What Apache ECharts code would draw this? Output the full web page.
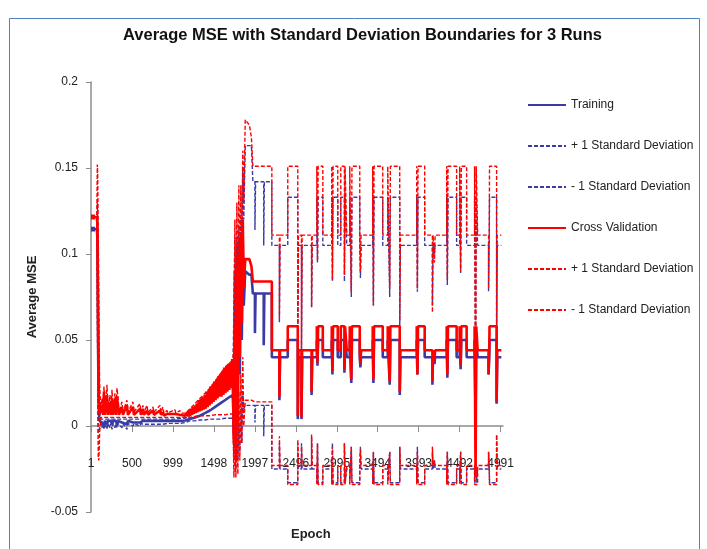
<!DOCTYPE html>
<html>
<head>
<meta charset="utf-8">
<script src="https://cdn.jsdelivr.net/npm/echarts@6/dist/echarts.min.js"></script>
<style>
html,body{margin:0;padding:0;background:#fff;}
#chart{width:707px;height:549px;}
</style>
</head>
<body>
<div id="chart"></div>
<script>
// ---- Data (epoch, value) ----
const epochTicks = [1,500,999,1498,1997,2496,2995,3494,3993,4492,4991];
const lastEpoch = 5000;

// Early (noisy) part: vertices shared by most series
const earlyEpoch = [1,72,78,82,86,90,95,100,106,120,135,147,159,171,196,208,232,244,257,269,293,305,317,330,342,378,390,439,451,512,524,597,609,634,646,683,695,756,768,841,853,877,889,926,938,1023,1035,1084,1096,1150,1206,1267,1328,1389,1449,1510,1571,1632,1693,1730,1742,1754,1766,1778,1790,1802,1814,1826,1838,1850,1862,1880,1930,1955];
const earlyTrainMean = [.1145,.1145,.110,.090,.060,.030,.012,.005,.003,.003,.002,.003,.000,.003,.001,.003,.002,.003,.001,.003,.002,.003,.001,.003,.003,.002,.003,.001,.003,.002,.003,.002,.003,.003,.003,.003,.003,.003,.003,.003,.003,.003,.003,.003,.003,.003,.003,.003,.003,.0032,.004,.005,.006,.0075,.009,.011,.013,.015,.017,.018,-.005,.090,.000,.105,.020,.108,.030,.110,.050,.105,.070,.090,.088,.088];
const earlyTrainUpper = [.1155,.1155,.130,.124,.100,.070,.040,.020,.008,.004,.004,.004,.004,.004,.004,.004,.004,.004,.004,.004,.004,.004,.004,.004,.004,.004,.004,.004,.004,.004,.004,.004,.004,.004,.004,.004,.004,.004,.004,.004,.004,.004,.004,.004,.004,.004,.004,.0045,.0045,.0045,.006,.008,.010,.013,.016,.019,.022,.025,.028,.029,.030,.110,.040,.110,.060,.115,.070,.120,.100,.150,.120,.163,.163,.163];
const earlyTrainLower = [.1135,.1135,.090,.050,.010,-.004,-.004,-.003,-.001,.0015,-.001,.0015,-.002,.0015,-.002,.0015,-.001,.0015,-.002,.0015,-.001,.0015,-.001,.0015,.0015,-.001,.0015,-.002,.0015,.000,.0015,.000,.0015,.001,.0015,.001,.0015,.001,.0015,.001,.0015,.001,.0015,.0015,.0015,.0015,.0015,.0015,.0015,.002,.003,.003,.0035,.0035,.004,.004,.004,.0045,.0045,.0045,-.020,-.005,-.025,.000,-.020,.000,-.015,.010,-.010,.020,.010,.012,.012,.012];
const earlyCvUpper = [.1225,.1225,.152,.148,.130,.110,.080,.050,.025,.008,.016,.008,.023,.008,.024,.008,.018,.008,.021,.008,.019,.008,.022,.017,.008,.014,.008,.015,.008,.014,.008,.013,.008,.012,.008,.012,.008,.011,.008,.012,.008,.011,.0075,.009,.0075,.0095,.0075,.009,.0075,.0075,.010,.013,.016,.019,.022,.026,.030,.034,.037,.038,.050,.120,.030,.130,.050,.140,.080,.140,.100,.160,.130,.178,.175,.168];
const earlyCvLower = [.1205,.1205,.084,.040,.000,-.018,-.020,-.015,-.004,.005,.005,.005,.005,.005,.005,.005,.005,.005,.005,.005,.005,.005,.005,.005,.005,.005,.005,.005,.005,.005,.005,.005,.005,.005,.005,.005,.005,.005,.005,.005,.005,.005,.005,.005,.005,.005,.005,.005,.005,.005,.005,.0055,.006,.006,.006,.0065,.0065,.0065,.007,.007,-.030,-.010,-.030,.010,-.028,.020,-.020,.030,-.010,.040,.000,.015,.015,.015];

// Cross-validation mean has its own (denser, noisy) early vertices
const cvMeanEpoch = [1,72,78,82,86,90,95,100,106,120,135,147,159,171,196,208,232,244,257,269,293,305,317,330,342,378,390,439,451,512,524,597,609,634,646,683,695,756,768,841,853,877,889,926,938,1023,1035,1084,1096,1150,
  1170,1182,1194,1206,1218,1230,1242,1254,1266,1278,1290,1302,1314,1326,1338,1350,1362,1374,1386,1398,1410,1422,1434,1446,1458,1470,1482,1494,1506,1518,1530,1542,1554,1566,1578,1590,1602,1614,1626,1638,1650,1662,1674,1686,1698,1710,1722,
  1742,1754,1766,1778,1790,1802,1814,1826,1838,1850,1862,1880,1930,1955];
const cvMeanEarly = [.1215,.1215,.118,.100,.070,.040,.020,.010,.007,.0065,.012,.0065,.020,.0065,.018,.0065,.014,.0065,.016,.0065,.015,.0065,.017,.012,.0065,.011,.0065,.012,.0065,.011,.0065,.010,.0065,.010,.0065,.009,.0065,.009,.0065,.009,.0065,.008,.006,.007,.006,.007,.006,.0065,.006,.006,
  .008,.0055,.009,.006,.010,.0065,.011,.007,.012,.0075,.013,.008,.015,.0085,.016,.009,.017,.0095,.018,.010,.020,.011,.021,.012,.023,.013,.024,.014,.026,.015,.027,.016,.029,.017,.030,.017,.032,.018,.034,.019,.035,.020,.036,.021,.037,.022,.039,
  -.010,.060,-.020,.090,.000,.100,.040,.110,.060,.120,.080,.097,.097,.093];

// Later (plateau) part: segment start epochs and the level held in each segment
const stepEpoch = [1973,1998,2006,2105,2113,2204,2296,2304,2398,2520,2528,2565,2573,2688,2696,2752,2760,2768,2825,2934,2942,2950,3007,3044,3088,3096,3117,3153,3172,3180,3275,3283,3291,3433,3441,3449,3555,3616,3640,3648,3762,3770,3969,3977,3985,4066,4160,4168,4185,4193,4334,4342,4350,4455,4492,4504,4512,4577,4674,4686,4694,4711,4844,4852,4856,4942,4950];
const stepTrainMean = [.077,.054,.077,.047,.077,.040,.015,.040,.050,.004,.040,.004,.040,.018,.040,.050,.035,.050,.040,.050,.030,.050,.040,.050,.031,.050,.040,.050,.025,.050,.040,.034,.040,.050,.025,.050,.040,.050,.024,.050,.018,.040,.050,.030,.050,.040,.024,.040,.036,.040,.050,.028,.050,.040,.050,.033,.050,.040,.050,.003,.050,.040,.030,.040,.050,.013,.040];
const stepTrainUpper = [.142,.114,.142,.105,.142,.105,.060,.105,.133,.040,.105,.040,.105,.069,.105,.133,.095,.133,.105,.133,.084,.133,.105,.133,.084,.133,.105,.133,.075,.133,.105,.086,.105,.133,.070,.133,.105,.133,.075,.133,.055,.105,.133,.078,.133,.105,.070,.105,.100,.105,.133,.082,.133,.105,.133,.089,.133,.105,.133,.030,.133,.105,.078,.105,.133,.050,.105];
const stepTrainLower = [.012,.002,.012,-.006,.012,-.025,-.010,-.025,-.033,-.010,-.025,-.010,-.025,-.006,-.025,-.033,-.010,-.033,-.025,-.033,-.010,-.033,-.025,-.033,-.010,-.033,-.025,-.033,-.012,-.033,-.025,-.012,-.025,-.033,-.015,-.033,-.025,-.033,-.015,-.033,-.012,-.025,-.033,-.012,-.033,-.025,-.015,-.025,-.020,-.025,-.033,-.015,-.033,-.025,-.033,-.015,-.033,-.025,-.033,-.020,-.033,-.025,-.015,-.025,-.033,-.005,-.025];
const stepCvMean = [.084,.084,.084,.084,.084,.044,.017,.044,.058,.006,.044,.005,.044,.020,.044,.058,.037,.058,.044,.058,.032,.058,.044,.058,.033,.058,.044,.058,.027,.058,.044,.036,.044,.058,.027,.058,.044,.058,.026,.058,.020,.044,.058,.030,.058,.044,.026,.044,.038,.044,.058,.030,.058,.044,.058,.035,.058,.044,.058,-.030,.058,.044,.030,.044,.058,.014,.044];
const stepCvUpper = [.151,.151,.151,.151,.151,.111,.063,.111,.151,.045,.111,.045,.111,.069,.111,.151,.096,.151,.111,.151,.085,.151,.111,.151,.088,.151,.111,.151,.078,.151,.111,.090,.111,.151,.070,.151,.111,.151,.080,.151,.061,.111,.151,.080,.151,.111,.066,.111,.095,.111,.151,.085,.151,.111,.151,.090,.151,.111,.151,.000,.151,.111,.080,.111,.151,.040,.111];
const stepCvLower = [.014,.014,.014,.014,.014,-.023,-.006,-.023,-.034,-.008,-.023,-.012,-.023,-.005,-.023,-.034,-.010,-.034,-.023,-.034,-.012,-.034,-.023,-.034,-.010,-.034,-.023,-.034,-.012,-.034,-.023,-.014,-.023,-.034,-.015,-.034,-.023,-.034,-.015,-.034,-.012,-.023,-.034,-.015,-.034,-.023,-.012,-.023,-.020,-.023,-.034,-.015,-.034,-.023,-.034,-.015,-.034,-.023,-.034,-.035,-.034,-.023,-.015,-.023,-.034,-.005,-.023];

const seriesNames = ['Training','+ 1 Standard Deviation','- 1 Standard Deviation','Cross Validation','+ 1 Standard Deviation ','- 1 Standard Deviation '];

function build(epochs, earlyVals, stepVals){
  const pts = epochs.map((e,i)=>[e, earlyVals[i]]);
  for(let i=0;i<stepEpoch.length;i++){
    const end = i+1<stepEpoch.length ? stepEpoch[i+1] : lastEpoch;
    pts.push([stepEpoch[i], stepVals[i]]);
    pts.push([end, stepVals[i]]);
  }
  return pts;
}

const BLUE = '#3b3ba6';
const RED = '#ff0000';
const dash = [4,2];
const defs = [
  {name:seriesNames[0], data:build(earlyEpoch, earlyTrainMean, stepTrainMean), color:BLUE, width:2.6, type:'solid'},
  {name:seriesNames[1], data:build(earlyEpoch, earlyTrainUpper, stepTrainUpper), color:BLUE, width:1.4, type:dash},
  {name:seriesNames[2], data:build(earlyEpoch, earlyTrainLower, stepTrainLower), color:BLUE, width:1.4, type:dash},
  {name:seriesNames[3], data:build(cvMeanEpoch, cvMeanEarly, stepCvMean), color:RED, width:2.6, type:'solid'},
  {name:seriesNames[4], data:build(earlyEpoch, earlyCvUpper, stepCvUpper), color:RED, width:1.4, type:dash},
  {name:seriesNames[5], data:build(earlyEpoch, earlyCvLower, stepCvLower), color:RED, width:1.4, type:dash}
];

const chart = echarts.init(document.getElementById('chart'), null, {renderer:'canvas'});
chart.setOption({
  animation:false,
  backgroundColor:'#ffffff',
  title:{
    text:'Average MSE with Standard Deviation Boundaries for 3 Runs',
    left:118, top:22,
    textStyle:{fontFamily:'Liberation Sans', fontSize:16.5, fontWeight:'bold', color:'#111'}
  },
  legend:{
    orient:'vertical', left:522, top:94,
    itemWidth:38, itemHeight:12, itemGap:29,
    itemStyle:{opacity:0},
    textStyle:{fontFamily:'Liberation Sans', fontSize:12, color:'#222'},
    data:seriesNames
  },
  grid:{left:91, right:204, top:82, bottom:37, containLabel:false},
  xAxis:{
    type:'value', min:1, max:5020,
    axisLine:{onZero:true, lineStyle:{color:'#8c8c8c', width:1.5}},
    axisTick:{show:true, length:6, inside:false, customValues:epochTicks, lineStyle:{color:'#8c8c8c'}},
    axisLabel:{customValues:epochTicks, margin:-54, formatter:v=>String(v), fontFamily:'Liberation Sans', fontSize:12, color:'#222'},
    splitLine:{show:false}
  },
  yAxis:{
    type:'value', min:-0.05, max:0.2, interval:0.05,
    name:'Average MSE', nameLocation:'middle', nameRotate:90, nameGap:52,
    nameTextStyle:{fontFamily:'Liberation Sans', fontSize:13, fontWeight:'bold', color:'#222'},
    axisLine:{show:true, lineStyle:{color:'#8c8c8c', width:1.5}},
    axisTick:{show:true, length:5, lineStyle:{color:'#8c8c8c'}},
    axisLabel:{margin:13, fontFamily:'Liberation Sans', fontSize:12, color:'#222'},
    splitLine:{show:false}
  },
  graphic:[
    {type:'rect', shape:{x:9.5, y:18.5, width:690, height:560}, style:{fill:'none', stroke:'#4f81bd', lineWidth:1}, silent:true, z:-1},
    {type:'text', left:291, top:528, style:{text:'Epoch', font:'bold 13px "Liberation Sans"', fill:'#222'}}
  ],
  series:defs.map(d=>({
    name:d.name, type:'line', data:d.data, symbol:'none', showSymbol:false,
    color:d.color,
    lineStyle:{color:d.color, width:d.width, type:d.type},
    itemStyle:{color:d.color},
    emphasis:{disabled:true}
  }))
});
</script>
</body>
</html>
